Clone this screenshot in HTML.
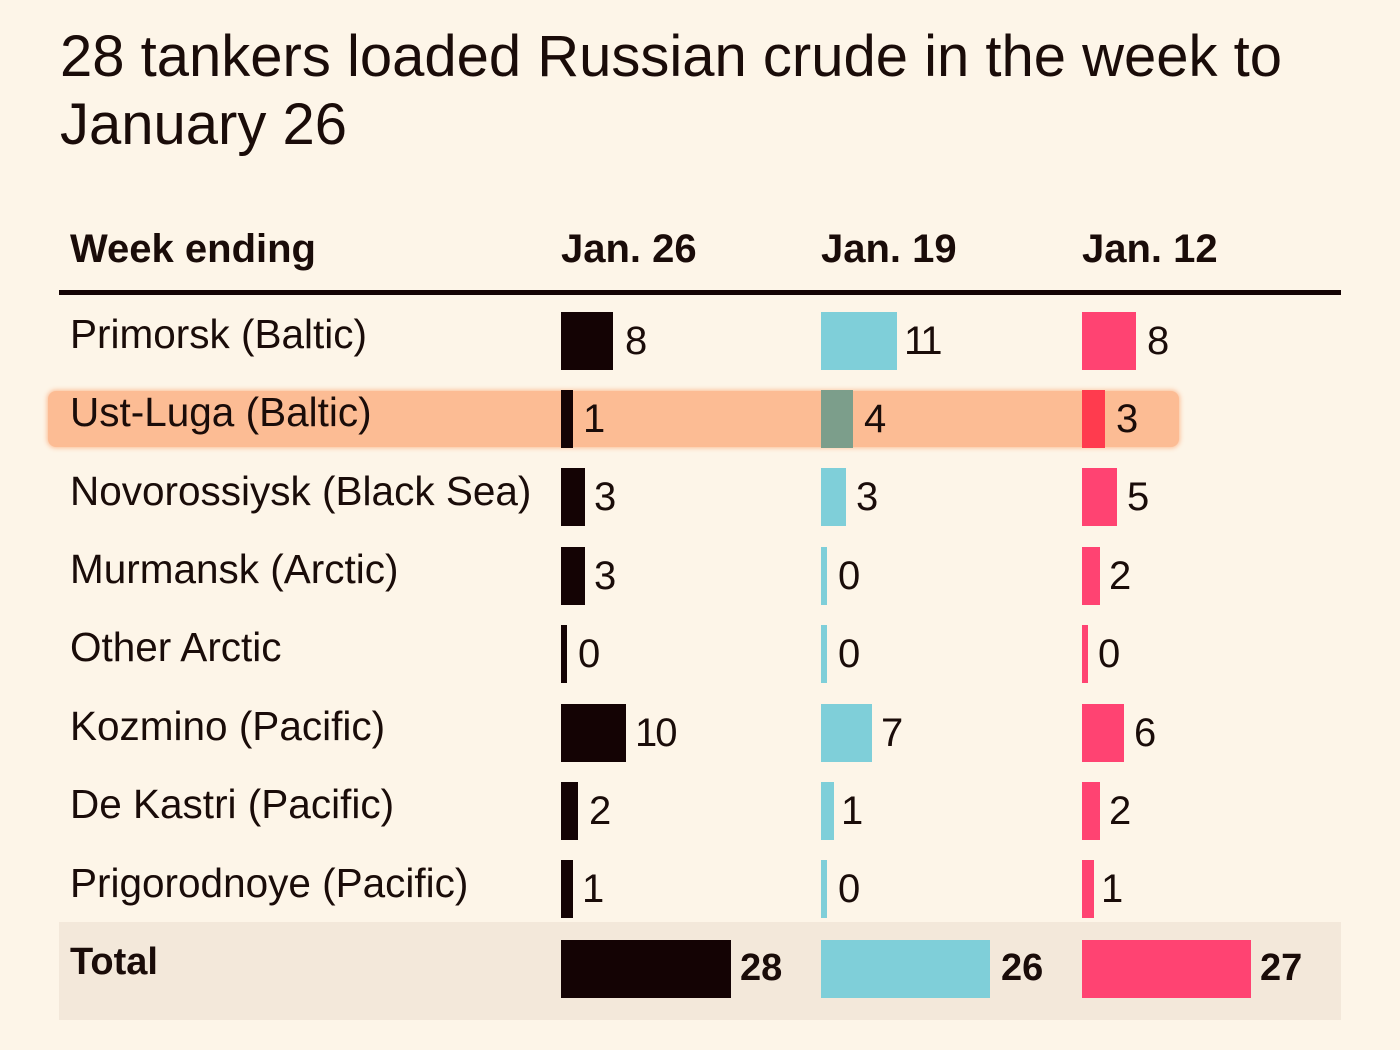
<!DOCTYPE html>
<html><head><meta charset="utf-8"><style>
html,body{margin:0;padding:0}
body{width:1400px;height:1050px;background:#fdf5e8;position:relative;overflow:hidden;font-family:"Liberation Sans",Arial,sans-serif;color:#1a0c09}
.t{position:absolute;white-space:nowrap;line-height:1}
.title{font-size:58px;line-height:68px;left:60px;top:23px;letter-spacing:0px}
.h{font-size:40px;font-weight:bold;top:229px}
.lab{font-size:40.5px;left:70px}
.val{font-size:40px}
.b{position:absolute;height:58px}
.c1{background:#140304}.c2{background:#7fcfd9}.c3{background:#ff4372}
</style></head><body>
<div class="t title">28 tankers loaded Russian crude in the week to<br>January 26</div>

<div class="t h" style="left:70px">Week ending</div>
<div class="t h" style="left:561px">Jan. 26</div>
<div class="t h" style="left:821px">Jan. 19</div>
<div class="t h" style="left:1082px">Jan. 12</div>
<div style="position:absolute;left:59px;top:290px;width:1282px;height:5px;background:#140304"></div>

<!-- highlight -->
<div style="position:absolute;left:48px;top:391px;width:1131px;height:56px;background:#fcbc94;border-radius:8px;box-shadow:0 0 5px 1px #fcbc94"></div>

<!-- row 1 -->
<div class="t lab" style="top:314px">Primorsk (Baltic)</div>
<div class="b c1" style="left:561px;top:312px;width:52px"></div><div class="t val" style="left:625px;top:321px">8</div>
<div class="b c2" style="left:821px;top:312px;width:76px"></div><div class="t val" style="left:904px;top:321px;letter-spacing:-3px">11</div>
<div class="b c3" style="left:1082px;top:312px;width:54px"></div><div class="t val" style="left:1147px;top:321px">8</div>
<!-- row 2 -->
<div class="t lab" style="top:392px">Ust-Luga (Baltic)</div>
<div class="b c1" style="left:561px;top:390px;width:12px"></div><div class="t val" style="left:583px;top:399px">1</div>
<div class="b" style="left:821px;top:390px;width:32px;background:#7c9e8b"></div><div class="t val" style="left:864px;top:399px">4</div>
<div class="b" style="left:1082px;top:390px;width:23px;background:#ff3b4e"></div><div class="t val" style="left:1116px;top:399px">3</div>
<!-- row 3 -->
<div class="t lab" style="top:471px">Novorossiysk (Black Sea)</div>
<div class="b c1" style="left:561px;top:468px;width:24px"></div><div class="t val" style="left:594px;top:477px">3</div>
<div class="b c2" style="left:821px;top:468px;width:25px"></div><div class="t val" style="left:856px;top:477px">3</div>
<div class="b c3" style="left:1082px;top:468px;width:35px"></div><div class="t val" style="left:1127px;top:477px">5</div>
<!-- row 4 -->
<div class="t lab" style="top:549px">Murmansk (Arctic)</div>
<div class="b c1" style="left:561px;top:547px;width:24px"></div><div class="t val" style="left:594px;top:556px">3</div>
<div class="b c2" style="left:821px;top:547px;width:6px"></div><div class="t val" style="left:838px;top:556px">0</div>
<div class="b c3" style="left:1082px;top:547px;width:18px"></div><div class="t val" style="left:1109px;top:556px">2</div>
<!-- row 5 -->
<div class="t lab" style="top:627px">Other Arctic</div>
<div class="b c1" style="left:561px;top:625px;width:6px"></div><div class="t val" style="left:578px;top:634px">0</div>
<div class="b c2" style="left:821px;top:625px;width:6px"></div><div class="t val" style="left:838px;top:634px">0</div>
<div class="b c3" style="left:1082px;top:625px;width:6px"></div><div class="t val" style="left:1098px;top:634px">0</div>
<!-- row 6 -->
<div class="t lab" style="top:706px">Kozmino (Pacific)</div>
<div class="b c1" style="left:561px;top:704px;width:65px"></div><div class="t val" style="left:635px;top:713px;letter-spacing:-2px">10</div>
<div class="b c2" style="left:821px;top:704px;width:51px"></div><div class="t val" style="left:881px;top:713px">7</div>
<div class="b c3" style="left:1082px;top:704px;width:42px"></div><div class="t val" style="left:1134px;top:713px">6</div>
<!-- row 7 -->
<div class="t lab" style="top:784px">De Kastri (Pacific)</div>
<div class="b c1" style="left:561px;top:782px;width:17px"></div><div class="t val" style="left:589px;top:791px">2</div>
<div class="b c2" style="left:821px;top:782px;width:13px"></div><div class="t val" style="left:841px;top:791px">1</div>
<div class="b c3" style="left:1082px;top:782px;width:18px"></div><div class="t val" style="left:1109px;top:791px">2</div>
<!-- row 8 -->
<div class="t lab" style="top:863px">Prigorodnoye (Pacific)</div>
<div class="b c1" style="left:561px;top:860px;width:12px"></div><div class="t val" style="left:582px;top:869px">1</div>
<div class="b c2" style="left:821px;top:860px;width:6px"></div><div class="t val" style="left:838px;top:869px">0</div>
<div class="b c3" style="left:1082px;top:860px;width:12px"></div><div class="t val" style="left:1101px;top:869px">1</div>

<!-- total -->
<div style="position:absolute;left:59px;top:922px;width:1282px;height:98px;background:#f3e8da"></div>
<div class="t" style="left:70px;top:943px;font-size:38px;font-weight:bold">Total</div>
<div class="b c1" style="left:561px;top:940px;width:170px"></div><div class="t" style="left:740px;top:949px;font-size:38px;font-weight:bold">28</div>
<div class="b c2" style="left:821px;top:940px;width:169px"></div><div class="t" style="left:1001px;top:949px;font-size:38px;font-weight:bold">26</div>
<div class="b c3" style="left:1082px;top:940px;width:169px"></div><div class="t" style="left:1260px;top:949px;font-size:38px;font-weight:bold">27</div>
</body></html>
